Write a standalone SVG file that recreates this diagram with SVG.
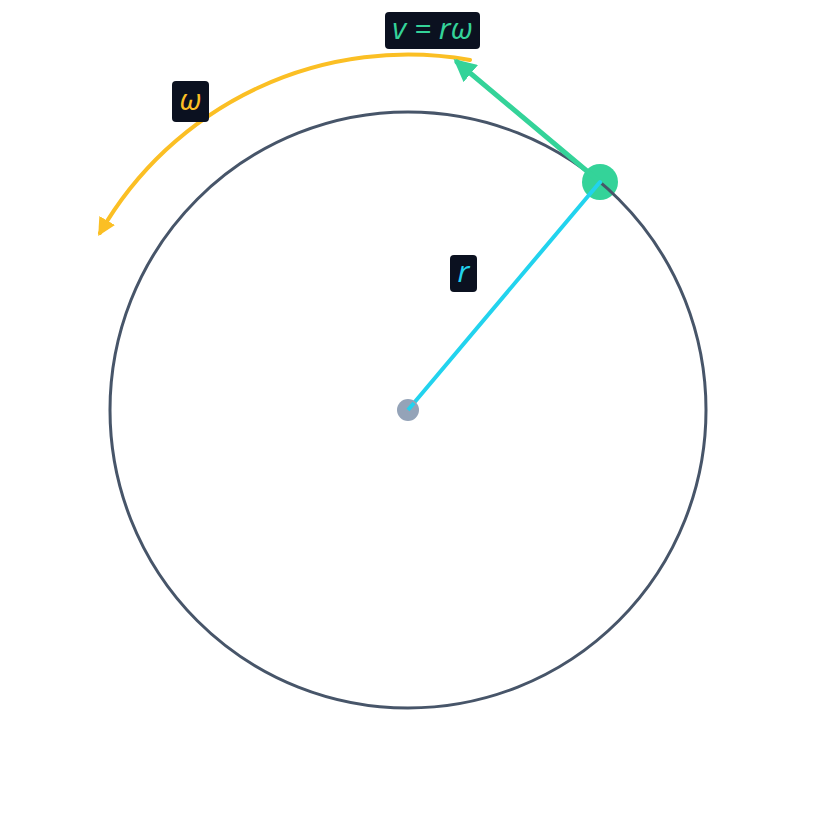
<svg xmlns="http://www.w3.org/2000/svg" width="816" height="819" viewBox="0 0 816 819">
<style>
.lbl{fill:#0b1120}
.t{font-family:"Open Sans","DejaVu Sans",sans-serif;font-style:italic;font-size:30px;text-anchor:middle}
</style>
<defs>
<marker id="ay" viewBox="0 0 10 10" refX="8" refY="5" markerWidth="4.5" markerHeight="4.5" orient="auto" markerUnits="strokeWidth">
<path d="M0,0 L10,5 L0,10 z" fill="#fbbf24"/>
</marker>
<marker id="ag" viewBox="0 0 10 10" refX="8" refY="5" markerWidth="4.5" markerHeight="4.5" orient="auto" markerUnits="strokeWidth">
<path d="M0,0 L10,5 L0,10 z" fill="#34d399"/>
</marker>
</defs>
<rect width="816" height="819" fill="#ffffff"/>
<g id="point">
<circle cx="600" cy="182" r="18" fill="#34d399"/>
</g>
<g id="orbit">
<circle cx="408" cy="410" r="298" fill="none" stroke="#475569" stroke-width="3"/>
</g>
<g id="connectors" fill="none" stroke-linecap="round">
<path d="M470,60 A355,355 0 0 0 100,233" stroke="#fbbf24" stroke-width="4" marker-end="url(#ay)"/>
<line x1="600" y1="182" x2="457" y2="62" stroke="#34d399" stroke-width="5" marker-end="url(#ag)"/>
<line x1="408" y1="410" x2="600" y2="182" stroke="#22d3ee" stroke-width="4"/>
</g>
<g id="center">
<circle cx="408" cy="410" r="11" fill="#94a3b8"/>
<line x1="408" y1="410" x2="414" y2="403" stroke="#22d3ee" stroke-width="4"/>
</g>
<g id="label-v">
<rect class="lbl" x="385" y="12" width="95" height="37" rx="4"/>
<text class="t" x="432.5" y="39" fill="#34d399">v = rω</text>
</g>
<g id="label-omega">
<rect class="lbl" x="172" y="81" width="37" height="41" rx="4"/>
<text class="t" x="190.5" y="110" fill="#fbbf24">ω</text>
</g>
<g id="label-r">
<rect class="lbl" x="450" y="255" width="27" height="37" rx="4"/>
<text class="t" x="463.5" y="282" fill="#22d3ee">r</text>
</g>
</svg>
